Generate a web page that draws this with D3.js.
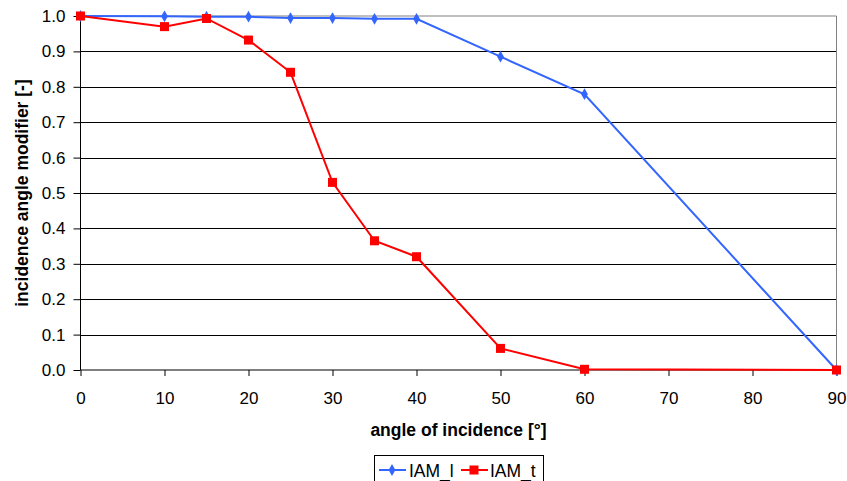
<!DOCTYPE html>
<html><head><meta charset="utf-8">
<script src="https://cdn.jsdelivr.net/npm/d3@7"></script>
<style>body{margin:0;background:#fff}svg{display:block}text{font-family:"Liberation Sans",Arial,sans-serif}</style>
</head><body>
<svg id="c" width="847" height="481"></svg>
<script>
const anglesL = [0,10,15,20,25,30,35,40,50,60,90];
const iamL = [1.0,0.999,0.998,0.998,0.994,0.994,0.992,0.992,0.885,0.779,0.0];
const anglesT = [0,10,15,20,25,30,35,40,50,60,90];
const iamT = [1.0,0.970,0.993,0.932,0.841,0.530,0.365,0.320,0.061,0.002,0.0];
const xTicks = [0,10,20,30,40,50,60,70,80,90];
const yTicks = [0,0.1,0.2,0.3,0.4,0.5,0.6,0.7,0.8,0.9,1.0];
const seriesNames = ["IAM_l","IAM_t"];

const svg = d3.select("#c");
const L=80.5, R=836.5, T=16, B=370;
const x = d3.scaleLinear().domain([0,90]).range([L,R]);
const y = d3.scaleLinear().domain([0,1]).range([B,T]);

svg.append("g").selectAll("line").data(yTicks.filter(d=>d>0 && d<1)).join("line")
  .attr("x1",L).attr("x2",R).attr("y1",d=>Math.round(y(d))+0.5).attr("y2",d=>Math.round(y(d))+0.5)
  .attr("stroke","#000").attr("stroke-width",1);
svg.append("line").attr("x1",L).attr("x2",R).attr("y1",T).attr("y2",T).attr("stroke","#808080");
svg.append("line").attr("x1",R).attr("x2",R).attr("y1",T).attr("y2",B).attr("stroke","#808080");

const yAxis = d3.axisLeft(y).tickValues(yTicks).tickFormat(d3.format(".1f")).tickSize(7).tickPadding(8);
const gy = svg.append("g").attr("transform",`translate(${L},0)`).call(yAxis);
const xAxis = d3.axisBottom(x).tickValues(xTicks).tickFormat(d3.format("d")).tickSize(6).tickPadding(16);
const gx = svg.append("g").attr("transform",`translate(0,${B})`).call(xAxis);
[gx,gy].forEach(g=>{
  g.selectAll(".domain").attr("stroke","#000");
  g.selectAll(".tick line").attr("stroke","#000");
  g.selectAll("text").attr("font-size",17).attr("fill","#000").attr("font-family","'Liberation Sans',Arial,sans-serif");
});
gy.select(".domain").attr("d",`M0,${T}V${B}`);
gx.select(".domain").attr("d",`M${L},0H${R}`);

const colors = ["#3366ff","#ff0000"];
const line = d3.line();
const dL = anglesL.map((a,i)=>[x(a),y(iamL[i])]);
const dT = anglesT.map((a,i)=>[x(a),y(iamT[i])]);
svg.append("path").attr("d",line(dL)).attr("fill","none").attr("stroke",colors[0]).attr("stroke-width",2);
svg.append("path").attr("d",line(dT)).attr("fill","none").attr("stroke",colors[1]).attr("stroke-width",2);
const diamond = d3.symbol().type(d3.symbolDiamond).size(40);
svg.append("g").selectAll("path").data(dL).join("path")
  .attr("transform",d=>`translate(${d[0]},${d[1]})`).attr("d",diamond).attr("fill",colors[0]);
svg.append("g").selectAll("rect").data(dT).join("rect")
  .attr("x",d=>d[0]-4.5).attr("y",d=>d[1]-4.5).attr("width",9).attr("height",9).attr("fill",colors[1]);

svg.append("text").attr("x",(L+R)/2).attr("y",436).attr("text-anchor","middle")
  .attr("font-size",17.5).attr("font-weight","bold").text("angle of incidence [°]");
svg.append("text").attr("transform",`translate(28,${(T+B)/2}) rotate(-90)`).attr("text-anchor","middle")
  .attr("font-size",17.5).attr("font-weight","bold").text("incidence angle modifier [-]");

const lg = svg.append("g");
lg.append("rect").attr("x",374.5).attr("y",455.5).attr("width",169).attr("height",40).attr("fill","#fff").attr("stroke","#000");
const items = [{x0:379,x1:406,mx:392,tx:409},{x0:461,x1:488,mx:474,tx:490}];
items.forEach((it,i)=>{
  lg.append("line").attr("x1",it.x0).attr("x2",it.x1).attr("y1",470).attr("y2",470).attr("stroke",colors[i]).attr("stroke-width",2);
  if(i===0) lg.append("path").attr("transform",`translate(${it.mx},470)`).attr("d",diamond).attr("fill",colors[0]);
  else lg.append("rect").attr("x",it.mx-4.5).attr("y",465.5).attr("width",9).attr("height",9).attr("fill",colors[1]);
  lg.append("text").attr("x",it.tx).attr("y",476.5).attr("font-size",17.5).text(seriesNames[i]);
});
</script>
</body></html>
